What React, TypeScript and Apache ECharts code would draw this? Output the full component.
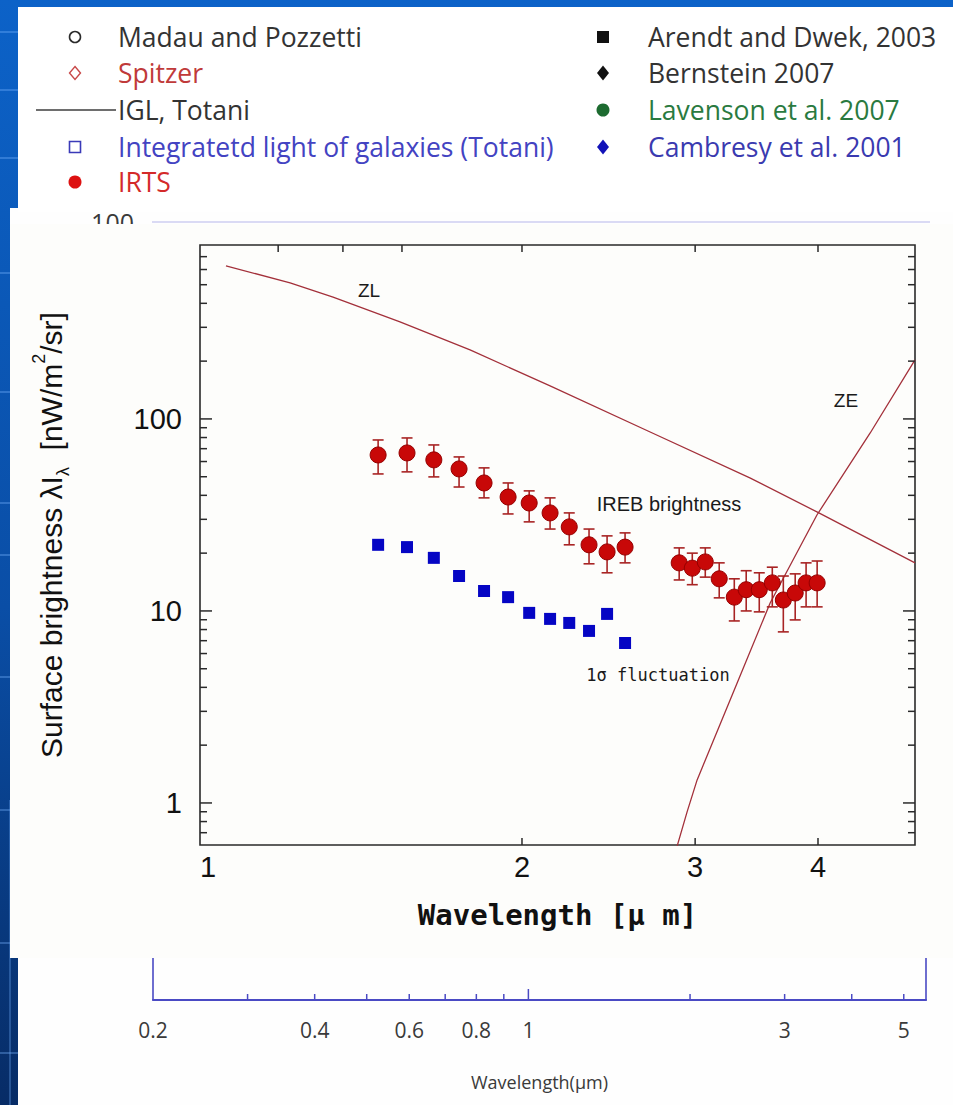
import React, { useEffect, useRef } from "react";
import * as echarts from "echarts";

const W = 953;
const H = 1105;

// ---------- data ----------
const irtsWavelength = [1.428, 1.528, 1.627, 1.726, 1.83, 1.936, 2.034, 2.136, 2.234, 2.34, 2.441, 2.546,
  2.89, 2.98, 3.072, 3.174, 3.288, 3.381, 3.486, 3.594, 3.688, 3.792, 3.89, 3.992];
const irtsBrightness = [64.9, 66.5, 61.2, 54.9, 46.4, 39.2, 36.5, 32.4, 27.4, 22.1, 20.3, 21.5,
  17.8, 16.7, 18.0, 14.7, 11.8, 12.9, 12.9, 14.0, 11.4, 12.4, 14.0, 14.0];
const irtsErrLow = [51.7, 53.0, 49.9, 44.2, 38.8, 32.0, 29.1, 26.7, 22.1, 17.6, 15.8, 17.8,
  14.5, 13.7, 15.0, 11.7, 8.87, 10.0, 9.89, 10.5, 7.78, 8.98, 10.5, 10.5];
const irtsErrHigh = [77.7, 79.6, 73.2, 63.4, 55.6, 46.4, 42.2, 38.8, 32.4, 26.7, 24.6, 25.5,
  21.3, 20.0, 21.3, 17.8, 14.7, 16.2, 15.8, 16.9, 15.2, 15.6, 17.8, 18.2];

const flucWavelength = [1.428, 1.528, 1.627, 1.726, 1.83, 1.936, 2.034, 2.136, 2.234, 2.34, 2.441, 2.546];
const flucValue = [22.1, 21.5, 18.9, 15.2, 12.7, 11.8, 9.77, 9.09, 8.66, 7.87, 9.65, 6.81];

const zlWavelength = [1.0, 1.162, 1.285, 1.503, 1.771, 2.136, 2.7, 3.41, 3.99, 5.02];
const zlBrightness = [627, 511, 431, 320, 229, 148.5, 85.5, 49.3, 32.8, 17.8];

const zeWavelength = [2.86, 2.944, 3.014, 3.31, 3.576, 3.99, 4.52, 5.02];
const zeBrightness = [0.54, 0.898, 1.318, 4.22, 11.0, 31.6, 84.5, 203];

// axes
const X_MIN = 0.941;
const X_MAX = 5.02;
const Y_MIN = 0.604;
const Y_MAX = 805;
const yTickValues = [0.7, 0.8, 0.9, 1, 2, 3, 4, 5, 6, 7, 8, 9, 10, 20, 30, 40, 50, 60, 70, 80, 90, 100,
  200, 300, 400, 500, 600, 700];
const yLabelValues = [1, 10, 100];
const xLabelValues = [1, 2, 3, 4];
const xBottomTicks = [2, 3, 4];
const xTopTicks = [1.13, 1.315, 1.51, 2, 3, 4];

// lower (background) chart axis
const LOW_X_MIN = 0.2;
const LOW_X_MAX = 5.5;
const lowTickValues = [0.3, 0.4, 0.5, 0.6, 0.7, 0.8, 0.9, 1, 2, 3, 4, 5];
const lowLabelValues = [0.2, 0.4, 0.6, 0.8, 1, 3, 5];

// legend texts
const legendLeftLabels = ["Madau and Pozzetti", "Spitzer", "IGL, Totani",
  "Integratetd light of galaxies (Totani)", "IRTS"];
const legendRightLabels = ["Arendt and Dwek, 2003", "Bernstein 2007", "Lavenson et al. 2007",
  "Cambresy et al. 2001"];

// ---------- styles ----------
const SANS = '"Liberation Sans", Arial, sans-serif';
const OPEN = '"Open Sans", "Liberation Sans", sans-serif';
const MONO = '"DejaVu Sans Mono", monospace';
const RED_LINE = "#a3303a";
const AXIS = "#2a2a2a";
const LOW_BLUE = "#4a4ac4";

const legendLeftStyle = [
  { sym: "openCircle", color: "#2b2b2b", text: "#333333" },
  { sym: "openDiamond", color: "#c84848", text: "#c03a3a" },
  { sym: "line", color: "#6e6e6e", text: "#333333" },
  { sym: "openSquare", color: "#3a3ab8", text: "#4343c2" },
  { sym: "dot", color: "#dd1111", text: "#d42a2a" },
];
const legendRightStyle = [
  { sym: "square", color: "#111111", text: "#333333" },
  { sym: "diamond", color: "#111111", text: "#333333" },
  { sym: "dot", color: "#1d6b30", text: "#2a7a40" },
  { sym: "diamond", color: "#1212b8", text: "#3a3ab0" },
];
const legendRowsY = [37, 73, 110, 147, 182];

function legendSymbol(kind: string, cx: number, cy: number, color: string): any {
  const z = 7;
  switch (kind) {
    case "openCircle":
      return { type: "circle", z, shape: { cx, cy, r: 5.5 }, style: { fill: "none", stroke: color, lineWidth: 1.6 } };
    case "openDiamond":
      return { type: "polygon", z, shape: { points: [[cx, cy - 6.5], [cx + 5.5, cy], [cx, cy + 6.5], [cx - 5.5, cy]] },
        style: { fill: "none", stroke: color, lineWidth: 1.4 } };
    case "line":
      return { type: "line", z, shape: { x1: 36, y1: cy, x2: 116, y2: cy }, style: { stroke: color, lineWidth: 2 } };
    case "openSquare":
      return { type: "rect", z, shape: { x: cx - 5.5, y: cy - 5.5, width: 11, height: 11 },
        style: { fill: "none", stroke: color, lineWidth: 1.6 } };
    case "dot":
      return { type: "circle", z, shape: { cx, cy, r: 6.5 }, style: { fill: color } };
    case "square":
      return { type: "rect", z, shape: { x: cx - 6, y: cy - 6, width: 12, height: 12 }, style: { fill: color } };
    case "diamond":
    default:
      return { type: "polygon", z, shape: { points: [[cx, cy - 7.5], [cx + 6, cy], [cx, cy + 7.5], [cx - 6, cy]] },
        style: { fill: color } };
  }
}

function textEl(x: number, y: number, text: string, font: string, fill: string, align: string, z: number, vAlign = "middle"): any {
  return {
    type: "text", x, y, z,
    style: { text, font, fill, align, textAlign: align, verticalAlign: vAlign, textVerticalAlign: vAlign },
  };
}

function buildGraphics(): any[] {
  const els: any[] = [];
  // slide background
  els.push({
    type: "rect", z: 0, shape: { x: 0, y: 0, width: W, height: H },
    style: {
      fill: new echarts.graphic.LinearGradient(0, 0, 0, 1, [
        { offset: 0, color: "#0c62c8" },
        { offset: 0.55, color: "#0a4ea6" },
        { offset: 1, color: "#072c66" },
      ]),
    },
  });
  [32, 90, 158, 273, 392, 503, 555, 677, 810, 943, 1053].forEach((y) => {
    els.push({ type: "line", z: 0, shape: { x1: 0, y1: y, x2: W, y2: y },
      style: { stroke: "rgba(120,180,255,0.35)", lineWidth: 2 } });
  });
  els.push({ type: "line", z: 0, shape: { x1: 10, y1: 800, x2: 10, y2: H },
    style: { stroke: "rgba(120,180,255,0.3)", lineWidth: 2 } });

  // underlying (background) chart panel
  els.push({ type: "rect", z: 1, shape: { x: 18, y: 208, width: W - 18, height: H - 208 }, style: { fill: "#fefefe" } });
  els.push({ type: "rect", z: 1, shape: { x: 10, y: 208, width: 10, height: 700 }, style: { fill: "#fefefe" } });
  els.push(textEl(134, 222, "100", `25px ${OPEN}`, "#3a3a3a", "right", 3));
  els.push({ type: "line", z: 3, shape: { x1: 152, y1: 222, x2: 930, y2: 222 },
    style: { stroke: "#b6b6ea", lineWidth: 1.2 } });

  // legend panel
  els.push({ type: "rect", z: 6, shape: { x: 18, y: 7, width: W - 18, height: 205 }, style: { fill: "#ffffff" } });
  legendLeftLabels.forEach((label, i) => {
    const st = legendLeftStyle[i];
    els.push(legendSymbol(st.sym, 75, legendRowsY[i], st.color));
    els.push(textEl(118, legendRowsY[i], label, `26.5px ${OPEN}`, st.text, "left", 7));
  });
  legendRightLabels.forEach((label, i) => {
    const st = legendRightStyle[i];
    els.push(legendSymbol(st.sym, 603, legendRowsY[i], st.color));
    els.push(textEl(648, legendRowsY[i], label, `26.5px ${OPEN}`, st.text, "left", 7));
  });

  // overlay figure panel
  els.push({ type: "rect", z: 6, shape: { x: 10, y: 224, width: W - 10, height: 734 }, style: { fill: "#fdfdfb" } });

  // annotations on the figure
  els.push(textEl(369, 290, "ZL", `19px ${SANS}`, "#1a1a1a", "center", 20));
  els.push(textEl(846, 400, "ZE", `19px ${SANS}`, "#1a1a1a", "center", 20));
  els.push(textEl(669, 504, "IREB brightness", `20px ${SANS}`, "#1a1a1a", "center", 20));
  els.push(textEl(658, 675, "1σ fluctuation", `17px ${MONO}`, "#1a1a1a", "center", 20));
  return els;
}

function isDecade(v: number) {
  const l = Math.log10(v);
  return Math.abs(l - Math.round(l)) < 1e-6;
}

function buildOption(): any {
  const tickStyle = { stroke: AXIS, lineWidth: 1.5, fill: null };
  const lowTickStyle = { stroke: LOW_BLUE, lineWidth: 1.5, fill: null };

  return {
    animation: false,
    graphic: { elements: buildGraphics() },
    grid: [
      { left: 200, top: 245, width: 715, height: 600, show: true, borderColor: AXIS, borderWidth: 1.6,
        backgroundColor: "transparent", z: 10 },
      { left: 153, width: 926 - 153, top: 950, height: 50, show: false, z: 2 },
    ],
    xAxis: [
      {
        type: "log", logBase: 10, gridIndex: 0, min: X_MIN, max: X_MAX, z: 10,
        axisLine: { show: false }, axisTick: { show: false }, axisLabel: { show: false }, splitLine: { show: false },
        name: "Wavelength [μ m]", nameLocation: "middle", nameGap: 55,
        nameTextStyle: { fontFamily: MONO, fontWeight: "bold", fontSize: 29, color: "#111111" },
      },
      {
        type: "log", logBase: 10, gridIndex: 1, min: LOW_X_MIN, max: LOW_X_MAX, z: 2,
        axisLine: { show: true, lineStyle: { color: LOW_BLUE, width: 2 } },
        axisTick: { show: false }, axisLabel: { show: false }, splitLine: { show: false },
        name: "Wavelength(μm)", nameLocation: "middle", nameGap: 73,
        nameTextStyle: { fontFamily: OPEN, fontSize: 18, color: "#3a3a3a" },
      },
    ],
    yAxis: [
      {
        type: "log", logBase: 10, gridIndex: 0, min: Y_MIN, max: Y_MAX, z: 10,
        axisLine: { show: false }, axisTick: { show: false }, axisLabel: { show: false }, splitLine: { show: false },
        name: "Surface brightness λI{sub|λ}  [nW/m{sup|2}/sr]", nameLocation: "middle", nameGap: 128,
        nameTextStyle: {
          fontFamily: SANS, fontSize: 30, color: "#111111", lineHeight: 42, padding: [0, 0, 0, 20],
          rich: {
            sub: { fontFamily: SANS, fontSize: 18, lineHeight: 18, verticalAlign: "bottom", color: "#111111" },
            sup: { fontFamily: SANS, fontSize: 18, lineHeight: 18, verticalAlign: "top", color: "#111111" },
          },
        },
      },
      {
        type: "value", gridIndex: 1, min: 0, max: 1, z: 2, position: "left",
        axisLine: { show: true, lineStyle: { color: LOW_BLUE, width: 1.6 } },
        axisTick: { show: false }, axisLabel: { show: false }, splitLine: { show: false },
      },
      {
        type: "value", gridIndex: 1, min: 0, max: 1, z: 2, position: "right",
        axisLine: { show: true, lineStyle: { color: LOW_BLUE, width: 1.6 } },
        axisTick: { show: false }, axisLabel: { show: false }, splitLine: { show: false },
      },
    ],
    series: [
      // ---- lower (background) chart axis ticks and labels ----
      {
        type: "custom", name: "lowTicks", xAxisIndex: 1, yAxisIndex: 1, z: 3, silent: true,
        data: lowTickValues.map((v) => [v, 0]), encode: { x: 0, y: 1 },
        renderItem: (_p: any, api: any) => {
          const v = api.value(0);
          const p = api.coord([v, 0]);
          const len = v === 1 ? 11 : 6;
          return { type: "line", shape: { x1: p[0], y1: p[1], x2: p[0], y2: p[1] - len }, style: lowTickStyle };
        },
      },
      {
        type: "custom", name: "lowLabels", xAxisIndex: 1, yAxisIndex: 1, z: 3, silent: true,
        data: lowLabelValues.map((v) => [v, 0]), encode: { x: 0, y: 1 },
        renderItem: (_p: any, api: any) => {
          const v = api.value(0);
          const p = api.coord([v, 0]);
          return {
            type: "text", x: p[0], y: p[1] + 30,
            style: { text: String(v), font: `21px ${OPEN}`, fill: "#3a3a3a", align: "center", textAlign: "center",
              verticalAlign: "middle", textVerticalAlign: "middle" },
          };
        },
      },
      // ---- main figure ticks ----
      {
        type: "custom", name: "yTicks", xAxisIndex: 0, yAxisIndex: 0, z: 12, silent: true,
        data: yTickValues.map((v) => [X_MIN, v]), encode: { x: 0, y: 1 },
        renderItem: (_p: any, api: any) => {
          const v = api.value(1);
          const l = api.coord([X_MIN, v]);
          const r = api.coord([X_MAX, v]);
          const len = isDecade(v) ? 12 : 7;
          return {
            type: "group",
            children: [
              { type: "line", shape: { x1: l[0], y1: l[1], x2: l[0] + len, y2: l[1] }, style: tickStyle },
              { type: "line", shape: { x1: r[0], y1: r[1], x2: r[0] - len, y2: r[1] }, style: tickStyle },
            ],
          };
        },
      },
      {
        type: "custom", name: "xBottomTicks", xAxisIndex: 0, yAxisIndex: 0, z: 12, silent: true,
        data: xBottomTicks.map((v) => [v, Y_MIN]), encode: { x: 0, y: 1 },
        renderItem: (_p: any, api: any) => {
          const p = api.coord([api.value(0), Y_MIN]);
          return { type: "line", shape: { x1: p[0], y1: p[1], x2: p[0], y2: p[1] - 7 }, style: tickStyle };
        },
      },
      {
        type: "custom", name: "xTopTicks", xAxisIndex: 0, yAxisIndex: 0, z: 12, silent: true,
        data: xTopTicks.map((v) => [v, Y_MAX]), encode: { x: 0, y: 1 },
        renderItem: (_p: any, api: any) => {
          const p = api.coord([api.value(0), Y_MAX]);
          return { type: "line", shape: { x1: p[0], y1: p[1], x2: p[0], y2: p[1] + 7 }, style: tickStyle };
        },
      },
      {
        type: "custom", name: "yLabels", xAxisIndex: 0, yAxisIndex: 0, z: 12, silent: true,
        data: yLabelValues.map((v) => [X_MIN, v]), encode: { x: 0, y: 1 },
        renderItem: (_p: any, api: any) => {
          const v = api.value(1);
          const p = api.coord([X_MIN, v]);
          return {
            type: "text", x: p[0] - 18, y: p[1],
            style: { text: String(v), font: `29px ${SANS}`, fill: "#111111", align: "right", textAlign: "right",
              verticalAlign: "middle", textVerticalAlign: "middle" },
          };
        },
      },
      {
        type: "custom", name: "xLabels", xAxisIndex: 0, yAxisIndex: 0, z: 12, silent: true,
        data: xLabelValues.map((v) => [v, Y_MIN]), encode: { x: 0, y: 1 },
        renderItem: (_p: any, api: any) => {
          const v = api.value(0);
          const p = api.coord([v, Y_MIN]);
          const dx = v === xLabelValues[0] ? -18 : 0;
          return {
            type: "text", x: p[0] + dx, y: p[1] + 22,
            style: { text: String(v), font: `29px ${SANS}`, fill: "#111111", align: "center", textAlign: "center",
              verticalAlign: "middle", textVerticalAlign: "middle" },
          };
        },
      },
      // ---- model curves ----
      {
        type: "line", name: "ZL", xAxisIndex: 0, yAxisIndex: 0, z: 11, silent: true, clip: true,
        data: zlWavelength.map((x, i) => [x, zlBrightness[i]]),
        showSymbol: false, symbol: "none", lineStyle: { color: RED_LINE, width: 1.3 },
      },
      {
        type: "line", name: "ZE", xAxisIndex: 0, yAxisIndex: 0, z: 11, silent: true, clip: true,
        data: zeWavelength.map((x, i) => [x, zeBrightness[i]]),
        showSymbol: false, symbol: "none", lineStyle: { color: RED_LINE, width: 1.3 },
      },
      // ---- IRTS error bars ----
      {
        type: "custom", name: "IRTS error", xAxisIndex: 0, yAxisIndex: 0, z: 13, silent: true,
        data: irtsWavelength.map((x, i) => [x, irtsErrLow[i], irtsErrHigh[i]]),
        encode: { x: 0, y: [1, 2] },
        renderItem: (_p: any, api: any) => {
          const x = api.value(0);
          const lo = api.coord([x, api.value(1)]);
          const hi = api.coord([x, api.value(2)]);
          const st = { stroke: "#a82424", lineWidth: 1.6, fill: null };
          return {
            type: "group",
            children: [
              { type: "line", shape: { x1: lo[0], y1: lo[1], x2: hi[0], y2: hi[1] }, style: st },
              { type: "line", shape: { x1: lo[0] - 5.5, y1: lo[1], x2: lo[0] + 5.5, y2: lo[1] }, style: st },
              { type: "line", shape: { x1: hi[0] - 5.5, y1: hi[1], x2: hi[0] + 5.5, y2: hi[1] }, style: st },
            ],
          };
        },
      },
      {
        type: "scatter", name: "IREB brightness", xAxisIndex: 0, yAxisIndex: 0, z: 14, silent: true,
        data: irtsWavelength.map((x, i) => [x, irtsBrightness[i]]),
        symbol: "circle", symbolSize: 16,
        itemStyle: { color: "#c80808", borderColor: "#950000", borderWidth: 1, opacity: 1 },
      },
      {
        type: "scatter", name: "1σ fluctuation", xAxisIndex: 0, yAxisIndex: 0, z: 14, silent: true,
        data: flucWavelength.map((x, i) => [x, flucValue[i]]),
        symbol: "rect", symbolSize: 12,
        itemStyle: { color: "#0505c4", opacity: 1 },
      },
    ],
  };
}

export default function App() {
  const ref = useRef<HTMLDivElement>(null);
  useEffect(() => {
    if (!ref.current) return;
    const chart = echarts.init(ref.current, null, { renderer: "svg", width: W, height: H });
    chart.setOption(buildOption());
    return () => chart.dispose();
  }, []);
  return <div ref={ref} style={{ position: "absolute", left: 0, top: 0, width: W, height: H }} />;
}
